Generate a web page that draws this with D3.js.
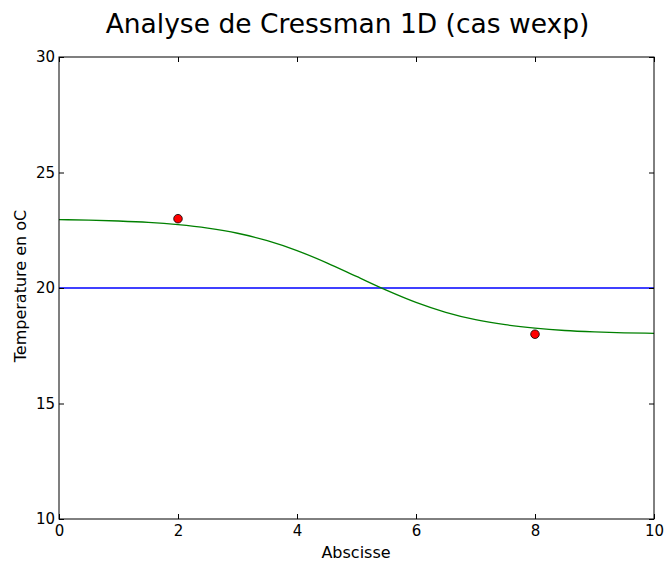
<!DOCTYPE html>
<html>
<head>
<meta charset="utf-8">
<script src="https://cdn.jsdelivr.net/npm/d3@7"></script>
<style>
  body { margin: 0; background: #fff; }
  svg { display: block; font-family: "DejaVu Sans", sans-serif; }
</style>
</head>
<body>
<svg id="chart" width="668" height="564"></svg>
<script>
// Cressman analysis along the abscissa (wexp weights)
const analysisX = [0, 0.5, 1, 1.5, 2, 2.5, 3, 3.5, 4, 4.5, 5, 5.5, 6, 6.5, 7, 7.5, 8, 8.5, 9, 9.5, 10];
const analysisT = [22.96, 22.94, 22.90, 22.84, 22.74, 22.59, 22.37, 22.05, 21.62, 21.09, 20.50,
                   19.91, 19.38, 18.95, 18.63, 18.41, 18.26, 18.16, 18.10, 18.06, 18.04];
// background field
const backgroundX = [0, 10];
const backgroundT = [20, 20];
// observations
const obsX = [2, 8];
const obsT = [23, 18];

const xTicks = [0, 2, 4, 6, 8, 10];
const yTicks = [10, 15, 20, 25, 30];

const svg = d3.select("#chart");
const m = { left: 59, right: 654, top: 57, bottom: 519 };

const x = d3.scaleLinear().domain([0, 10]).range([m.left, m.right]);
const y = d3.scaleLinear().domain([10, 30]).range([m.bottom, m.top]);

// title
svg.append("text")
  .attr("x", (m.left + m.right) / 2 - 9).attr("y", 33)
  .attr("text-anchor", "middle")
  .attr("font-size", "26.5px")
  .text("Analyse de Cressman 1D (cas wexp)");

const plot = svg.append("g");
plot.append("clipPath").attr("id", "clip")
  .append("rect").attr("x", m.left).attr("y", m.top)
  .attr("width", m.right - m.left).attr("height", m.bottom - m.top);

const line = d3.line().x(d => x(d[0])).y(d => y(d[1]));

plot.append("path")
  .datum(backgroundX.map((v, i) => [v, backgroundT[i]]))
  .attr("fill", "none").attr("stroke", "#0000ff").attr("stroke-width", 1.5)
  .attr("clip-path", "url(#clip)")
  .attr("d", line);

plot.append("path")
  .datum(analysisX.map((v, i) => [v, analysisT[i]]))
  .attr("fill", "none").attr("stroke", "#008000").attr("stroke-width", 1.3)
  .attr("clip-path", "url(#clip)")
  .attr("d", line.curve(d3.curveMonotoneX));

plot.selectAll("circle.obs")
  .data(obsX.map((v, i) => [v, obsT[i]]))
  .join("circle")
  .attr("class", "obs")
  .attr("cx", d => x(d[0])).attr("cy", d => y(d[1]))
  .attr("r", 4.3)
  .attr("fill", "#ff0000").attr("stroke", "#000").attr("stroke-width", 0.8);

// axes with inward ticks on all four sides
const tick = 5;
const tickFont = "15px";
const axes = svg.append("g");

function styleAxis(g) {
  g.select(".domain").remove();
  g.selectAll(".tick line").attr("stroke", "#000").attr("stroke-width", 1);
}

axes.append("g").attr("transform", `translate(0,${m.bottom})`)
  .call(d3.axisBottom(x).tickValues(xTicks).tickSize(-tick).tickPadding(6).tickFormat(d3.format("d")))
  .call(styleAxis)
  .selectAll("text").attr("font-size", tickFont).attr("fill", "#000").attr("font-family", "DejaVu Sans");

axes.append("g").attr("transform", `translate(0,${m.top})`)
  .call(d3.axisTop(x).tickValues(xTicks).tickSize(-tick).tickFormat(""))
  .call(styleAxis);

axes.append("g").attr("transform", `translate(${m.left},0)`)
  .call(d3.axisLeft(y).tickValues(yTicks).tickSize(-tick).tickPadding(4).tickFormat(d3.format("d")))
  .call(styleAxis)
  .selectAll("text").attr("font-size", tickFont).attr("fill", "#000").attr("font-family", "DejaVu Sans");

axes.append("g").attr("transform", `translate(${m.right},0)`)
  .call(d3.axisRight(y).tickValues(yTicks).tickSize(-tick).tickFormat(""))
  .call(styleAxis);

// frame
svg.append("rect")
  .attr("x", m.left).attr("y", m.top)
  .attr("width", m.right - m.left).attr("height", m.bottom - m.top)
  .attr("fill", "none").attr("stroke", "#000").attr("stroke-width", 1);

// axis labels
svg.append("text")
  .attr("x", 356).attr("y", 558)
  .attr("text-anchor", "middle").attr("font-size", "16px")
  .text("Abscisse");

svg.append("text")
  .attr("transform", `translate(26,286) rotate(-90)`)
  .attr("text-anchor", "middle").attr("font-size", "16px")
  .text("Temperature en oC");
</script>
</body>
</html>
